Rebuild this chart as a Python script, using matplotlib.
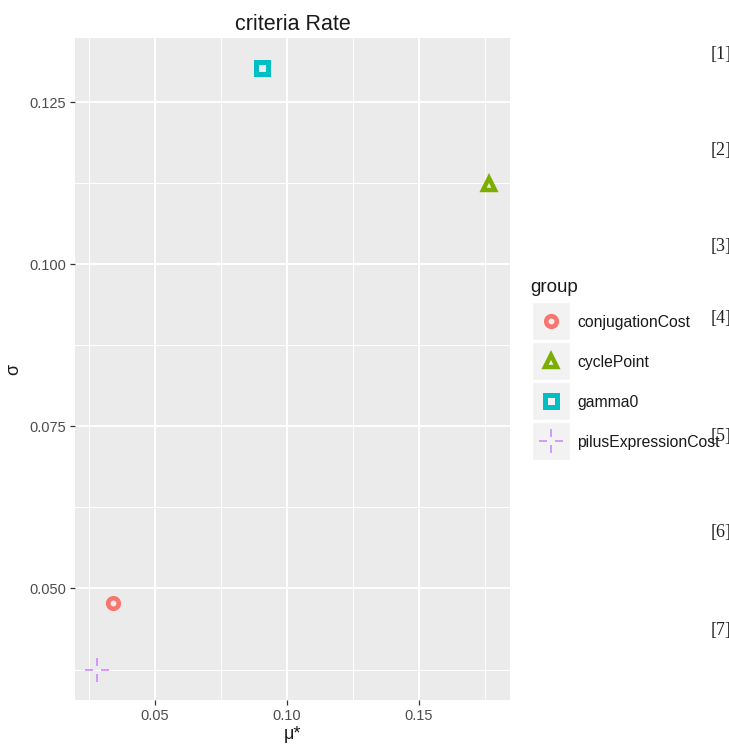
import matplotlib
matplotlib.use("Agg")
import matplotlib.pyplot as plt
from matplotlib.path import Path
from matplotlib.patches import Rectangle
from matplotlib.ticker import FixedLocator

plt.rcParams['font.family'] = ['Liberation Sans', 'DejaVu Sans']

groups = ["conjugationCost", "cyclePoint", "gamma0", "pilusExpressionCost"]
mu_star = [0.0341, 0.1765, 0.0905, 0.0280]
sigma = [0.0477, 0.1124, 0.1302, 0.0375]
colors = ["#F8766D", "#7CAE00", "#00BFC4", "#C77CFF"]
xticks = [0.05, 0.10, 0.15]
xtick_labels = ["0.05", "0.10", "0.15"]
yticks = [0.050, 0.075, 0.100, 0.125]
ytick_labels = ["0.050", "0.075", "0.100", "0.125"]
side_labels = ["[1]", "[2]", "[3]", "[4]", "[5]", "[6]", "[7]"]

# gapped plus marker
g = 0.35
gplus = Path([(-1, 0), (-g, 0), (g, 0), (1, 0), (0, -1), (0, -g), (0, g), (0, 1)],
             [Path.MOVETO, Path.LINETO, Path.MOVETO, Path.LINETO,
              Path.MOVETO, Path.LINETO, Path.MOVETO, Path.LINETO])
styles = [
    dict(marker="o", ms=7.6, mew=3.3, mfc="none"),
    dict(marker="^", ms=9.0, mew=3.2, mfc="none"),
    dict(marker="s", ms=8.8, mew=3.6, mfc="none"),
    dict(marker=gplus, ms=17, mew=1.4, mfc="none", alpha=0.75),
]

W, H = 729, 751
fig = plt.figure(figsize=(W / 100, H / 100), dpi=100)
fig.patch.set_facecolor("white")

L, R, T, B = 75, 510, 38, 700
ax = fig.add_axes([L / W, 1 - B / H, (R - L) / W, (B - T) / H])
ax.set_facecolor("#EBEBEB")
for s in ax.spines.values():
    s.set_visible(False)

for gname, x, y, c, st in zip(groups, mu_star, sigma, colors, styles):
    ax.plot([x], [y], linestyle="none", color=c, mec=c, **st, zorder=3)

ax.set_xlim(0.0197, 0.1845)
ax.set_ylim(0.0328, 0.1349)
ax.xaxis.set_major_locator(FixedLocator(xticks))
ax.set_xticklabels(xtick_labels)
ax.yaxis.set_major_locator(FixedLocator(yticks))
ax.set_yticklabels(ytick_labels)
ax.xaxis.set_minor_locator(FixedLocator([0.025, 0.075, 0.125, 0.175]))
ax.yaxis.set_minor_locator(FixedLocator([0.0375, 0.0625, 0.0875, 0.1125]))
ax.grid(which="major", color="white", lw=1.4, zorder=0)
ax.grid(which="minor", color="white", lw=0.7, zorder=0)
ax.set_axisbelow(True)
ax.tick_params(which="major", length=3.5, width=0.9, color="#333333",
               labelcolor="#4D4D4D", labelsize=10.5, pad=3)
ax.tick_params(which="minor", length=0)

ax.set_title("criteria Rate", fontsize=15.5, color="#1A1A1A", pad=6)
ax.set_xlabel("μ*", fontsize=13, color="#1A1A1A", labelpad=2)
ax.set_ylabel("σ", fontsize=13, color="#1A1A1A", labelpad=5)

# legend drawn manually
lax = fig.add_axes([0, 0, 1, 1], facecolor="none")
lax.set_xlim(0, W)
lax.set_ylim(H, 0)
lax.axis("off")
lax.text(530, 287, "group", fontsize=13.5, color="#1A1A1A", va="center", ha="left")
key_top = [302, 342, 382, 422]
for i, (gname, c, st) in enumerate(zip(groups, colors, styles)):
    y0 = key_top[i]
    lax.add_patch(Rectangle((532, y0), 38, 38, facecolor="#F2F2F2", edgecolor="white", lw=1))
    lax.plot([551], [y0 + 19], linestyle="none", color=c, mec=c, **st)
    lax.text(577, y0 + 20, gname, fontsize=11.3, color="#1A1A1A", va="center", ha="left")

side_y = [55, 150, 247, 318, 437, 532, 630]
for lab, yy in zip(side_labels, side_y):
    lax.text(711, yy, lab, fontsize=13, family="Liberation Serif", color="#222222",
             va="center", ha="left")

fig.savefig("out.png", dpi=100)
